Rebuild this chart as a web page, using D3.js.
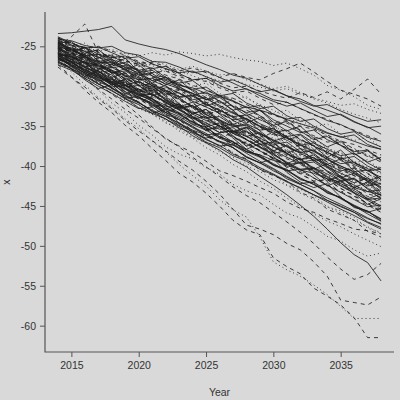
<!DOCTYPE html>
<html lang="en">
<head>
  <meta charset="UTF-8">
  <title>Simulated paths</title>
  <script type="text/javascript" src="https://cdn.jsdelivr.net/npm/d3@7/dist/d3.min.js"></script>
  <style type="text/css">
  body {
    margin: 0;
    padding: 0;
    background: #d9d9d9;
  }
  svg {
    display: block;
    background-color: #d9d9d9;
  }
  .path {
    fill: none;
    stroke: #1e1e1e;
    stroke-width: 0.85px;
  }
  .frame {
    stroke: #555;
    stroke-width: 1.2px;
    fill: none;
  }
  .tick line {
    stroke: #555;
  }
  .tick text, .axisLabel {
    fill: #333;
    font-family: "Liberation Sans", Arial, sans-serif;
    font-size: 10.5px;
  }
  </style>
</head>
<body>
  <div id="chart"></div>
<script type="text/javascript">
  var width = 400, height = 400;
  var plotLeft = 45, plotRight = 394, plotTop = 12, plotBottom = 352;

  var years = d3.range(2014, 2039);
  var xTicks = [2015, 2020, 2025, 2030, 2035];
  var yTicks = [-25, -30, -35, -40, -45, -50, -55, -60];

  // paths that stay high
  var s01 = [-23.4,-23.3,-23.1,-22.9,-22.5,-24.2,-24.7,-25.1,-25.4,-25.9,-26.6,-27.3,-27.9,-28.6,-29.0,-29.8,-30.5,-31.2,-31.6,-32.4,-33.0,-33.6,-34.5,-35.1,-36.0];
  var s02 = [-25.0,-23.8,-22.2,-25.8,-26.3,-26.9,-27.2,-28.0,-28.6,-29.1,-29.9,-30.4,-31.2,-31.5,-32.3,-33.1,-33.6,-34.2,-35.0,-35.4,-36.1,-36.9,-37.3,-38.0,-38.6];
  var s03 = [-24.5,-24.9,-25.1,-25.6,-25.4,-25.9,-26.2,-25.8,-26.1,-25.7,-25.9,-26.2,-26.0,-26.4,-26.7,-26.9,-27.4,-27.1,-27.8,-28.6,-29.9,-30.5,-31.3,-32.4,-32.9];
  var s04 = [-24.0,-24.6,-25.3,-25.7,-26.4,-26.8,-27.3,-27.0,-27.5,-28.1,-27.7,-28.3,-28.9,-28.4,-28.9,-29.2,-28.4,-27.8,-27.1,-28.2,-29.4,-30.5,-31.0,-31.6,-32.5];
  var s05 = [-25.2,-25.6,-26.1,-26.0,-26.7,-27.2,-27.9,-28.3,-28.1,-28.8,-29.3,-29.0,-29.6,-30.2,-30.0,-30.6,-31.1,-31.5,-30.8,-31.4,-30.7,-31.6,-30.4,-29.1,-31.0];
  var s06 = [-24.8,-25.3,-25.9,-26.4,-26.2,-26.9,-27.5,-27.2,-27.9,-28.4,-28.2,-28.8,-29.3,-29.1,-29.8,-30.1,-30.6,-30.3,-31.0,-31.5,-31.9,-32.4,-32.2,-32.9,-33.4];
  var s07 = [-25.0,-25.3,-25.5,-26.2,-26.0,-26.6,-27.1,-26.8,-27.3,-27.9,-27.5,-28.1,-28.6,-28.4,-29.2,-29.7,-30.3,-30.0,-30.8,-31.6,-32.1,-32.9,-33.5,-34.0,-34.6];
  var s08 = [-24.3,-24.6,-25.2,-25.0,-25.6,-26.1,-26.9,-27.2,-27.8,-28.6,-29.1,-29.4,-30.2,-30.8,-30.6,-31.5,-32.3,-32.0,-32.8,-33.6,-34.1,-34.9,-35.5,-36.2,-36.8];

  // central band
  var c01 = [-24.2,-24.9,-25.1,-26.0,-26.4,-26.2,-27.1,-27.8,-27.5,-28.4,-29.2,-29.0,-29.9,-30.6,-30.3,-31.2,-31.9,-32.5,-32.1,-33.0,-33.8,-33.5,-34.4,-35.2,-35.0];
  var c02 = [-25.1,-25.4,-26.3,-26.9,-26.6,-27.7,-28.3,-28.0,-29.1,-29.8,-30.4,-30.1,-31.2,-31.8,-32.7,-32.4,-33.5,-34.1,-33.9,-35.0,-35.8,-36.4,-36.1,-37.3,-37.9];
  var c03 = [-25.8,-26.5,-26.4,-27.4,-28.1,-28.8,-28.5,-29.6,-30.4,-30.2,-31.3,-32.0,-32.6,-32.3,-33.4,-34.2,-34.9,-34.6,-35.7,-36.5,-36.2,-37.4,-38.1,-38.8,-38.6];
  var c04 = [-24.6,-25.5,-26.2,-26.0,-27.1,-27.9,-28.6,-28.4,-29.5,-30.1,-30.9,-31.7,-31.4,-32.5,-33.3,-33.0,-34.2,-35.0,-35.8,-35.5,-36.7,-37.4,-38.2,-38.0,-39.2];
  var c05 = [-26.3,-26.8,-27.6,-28.5,-28.2,-29.3,-30.0,-30.8,-30.5,-31.6,-32.4,-33.1,-32.9,-34.0,-34.8,-35.5,-35.2,-36.4,-37.1,-37.9,-37.6,-38.8,-39.5,-40.3,-40.1];
  var c06 = [-25.3,-25.9,-26.8,-27.5,-28.3,-28.1,-29.0,-29.9,-30.6,-31.4,-31.2,-32.3,-33.0,-33.8,-33.6,-34.7,-35.4,-36.3,-36.0,-37.1,-37.9,-38.7,-38.4,-39.6,-40.5];
  var c07 = [-24.0,-24.8,-25.7,-25.5,-26.6,-27.2,-28.1,-28.9,-28.7,-29.8,-30.5,-31.4,-32.1,-31.9,-33.0,-33.7,-34.6,-34.3,-35.5,-36.2,-37.0,-36.8,-37.9,-38.7,-39.5];
  var c08 = [-26.7,-27.1,-27.9,-28.8,-29.5,-29.2,-30.4,-31.1,-31.9,-32.7,-32.4,-33.6,-34.3,-35.1,-34.9,-36.0,-36.8,-37.5,-38.3,-38.0,-39.2,-40.0,-40.7,-40.5,-41.7];
  var c09 = [-25.6,-26.4,-27.0,-27.8,-27.6,-28.7,-29.5,-30.1,-31.0,-30.8,-31.9,-32.6,-33.4,-34.2,-34.0,-35.1,-35.9,-36.5,-37.4,-37.1,-38.3,-39.0,-39.8,-40.6,-40.4];
  var c10 = [-24.9,-25.6,-26.5,-27.2,-28.0,-28.8,-28.6,-29.7,-30.4,-31.2,-32.0,-31.8,-32.9,-33.7,-34.4,-35.3,-35.0,-36.2,-36.9,-37.8,-38.5,-38.3,-39.4,-40.2,-41.0];
  var c11 = [-26.0,-26.9,-27.5,-28.4,-29.2,-29.9,-30.7,-30.5,-31.7,-32.4,-33.3,-34.0,-33.8,-34.9,-35.7,-36.5,-37.3,-37.0,-38.2,-39.0,-39.8,-40.6,-40.3,-41.5,-42.3];
  var c12 = [-25.2,-26.0,-26.7,-26.5,-27.6,-28.4,-29.1,-29.9,-30.7,-30.4,-31.6,-32.3,-33.1,-33.9,-33.7,-34.8,-35.6,-36.3,-37.2,-36.9,-38.1,-38.9,-39.6,-40.5,-40.2];
  var c13 = [-27.0,-27.6,-28.5,-29.3,-29.1,-30.2,-31.0,-31.8,-32.6,-32.3,-33.5,-34.3,-35.0,-35.9,-35.6,-36.8,-37.6,-38.4,-39.2,-38.9,-40.1,-40.9,-41.7,-42.5,-42.2];
  var c14 = [-24.5,-25.3,-26.1,-26.9,-27.7,-27.4,-28.5,-29.3,-30.0,-30.9,-31.7,-31.4,-32.6,-33.4,-34.1,-35.0,-35.8,-35.5,-36.7,-37.5,-38.3,-39.1,-38.8,-40.0,-40.8];
  var c15 = [-25.9,-26.6,-27.4,-28.2,-29.1,-29.8,-29.6,-30.7,-31.6,-32.4,-33.2,-34.0,-33.7,-34.9,-35.8,-36.6,-37.4,-38.2,-37.9,-39.1,-40.0,-40.8,-41.6,-42.4,-42.1];
  var c16 = [-26.4,-27.3,-28.1,-28.9,-29.8,-29.5,-30.7,-31.6,-32.4,-33.3,-34.1,-33.8,-35.0,-35.9,-36.7,-37.6,-38.4,-38.1,-39.3,-40.2,-41.0,-41.9,-41.6,-42.8,-43.7];
  var c17 = [-25.0,-25.8,-26.6,-27.5,-28.3,-29.1,-28.9,-30.0,-30.9,-31.7,-32.6,-33.4,-33.2,-34.3,-35.2,-36.0,-36.9,-37.7,-37.4,-38.6,-39.5,-40.3,-41.2,-42.0,-41.8];
  var c18 = [-24.7,-25.4,-26.3,-27.1,-27.0,-28.0,-28.8,-29.7,-30.5,-31.3,-31.1,-32.2,-33.0,-33.9,-34.7,-35.5,-35.3,-36.4,-37.3,-38.1,-38.9,-39.7,-39.5,-40.6,-41.4];
  var c19 = [-26.1,-27.0,-27.9,-28.6,-29.5,-30.3,-31.1,-30.9,-32.0,-32.9,-33.8,-34.6,-35.4,-35.2,-36.3,-37.2,-38.1,-38.9,-39.7,-39.5,-40.6,-41.5,-42.4,-43.2,-43.0];
  var c20 = [-25.5,-26.2,-27.2,-28.0,-28.9,-29.7,-29.5,-30.6,-31.5,-32.3,-33.2,-34.1,-34.9,-34.7,-35.8,-36.7,-37.5,-38.4,-39.2,-39.0,-40.1,-41.0,-41.9,-42.7,-43.6];
  var c21 = [-26.6,-27.4,-28.3,-29.2,-30.1,-29.9,-31.0,-31.9,-32.8,-33.6,-34.5,-35.4,-35.2,-36.3,-37.2,-38.1,-39.0,-39.8,-39.6,-40.7,-41.6,-42.5,-43.4,-44.2,-44.0];
  var c22 = [-24.3,-25.1,-25.9,-26.7,-27.6,-28.4,-29.2,-29.0,-30.1,-30.9,-31.8,-32.6,-33.4,-33.2,-34.3,-35.1,-36.0,-36.8,-37.6,-37.4,-38.5,-39.3,-40.2,-41.0,-41.8];
  var c23 = [-25.7,-26.7,-27.6,-28.5,-29.4,-30.3,-31.2,-31.0,-32.1,-33.0,-34.0,-34.9,-35.8,-35.6,-36.7,-37.6,-38.5,-39.5,-40.4,-40.2,-41.3,-42.2,-43.1,-44.1,-45.0];
  var c24 = [-26.9,-27.8,-28.8,-29.7,-30.6,-31.5,-31.3,-32.4,-33.3,-34.2,-35.2,-36.1,-35.9,-37.0,-37.9,-38.8,-39.7,-40.6,-40.4,-41.5,-42.4,-43.3,-44.2,-45.1,-44.9];
  var c25 = [-25.4,-26.1,-27.0,-27.9,-28.8,-29.6,-30.5,-31.4,-31.2,-32.3,-33.2,-34.1,-35.0,-35.9,-35.7,-36.8,-37.7,-38.6,-39.5,-40.4,-40.2,-41.3,-42.2,-43.1,-44.0];
  var c26 = [-24.8,-25.7,-26.5,-27.4,-28.2,-29.0,-29.9,-29.7,-30.8,-31.6,-32.5,-33.3,-34.2,-35.0,-34.8,-35.9,-36.7,-37.6,-38.4,-39.3,-39.1,-40.2,-41.0,-41.9,-42.7];
  var c27 = [-26.2,-26.9,-27.9,-28.8,-29.8,-30.7,-31.6,-32.6,-32.4,-33.5,-34.4,-35.4,-36.3,-37.2,-37.0,-38.1,-39.1,-40.0,-40.9,-41.9,-41.7,-42.8,-43.7,-44.7,-45.6];
  var c28 = [-25.3,-26.3,-27.2,-28.2,-29.1,-30.1,-29.9,-31.0,-32.0,-32.9,-33.9,-34.8,-35.8,-35.6,-36.7,-37.7,-38.6,-39.6,-40.5,-40.3,-41.4,-42.4,-43.3,-44.3,-45.2];
  var c29 = [-27.3,-28.0,-29.0,-30.0,-30.9,-31.9,-32.8,-32.6,-33.7,-34.7,-35.6,-36.6,-37.5,-37.3,-38.4,-39.4,-40.3,-41.3,-42.2,-42.0,-43.1,-44.1,-45.0,-46.0,-46.9];
  var c30 = [-25.9,-26.8,-27.8,-28.7,-29.7,-30.6,-31.6,-32.5,-32.3,-33.4,-34.4,-35.3,-36.3,-37.2,-37.0,-38.1,-39.1,-40.0,-41.0,-41.9,-41.7,-42.8,-43.8,-44.7,-45.7];

  // band with changing slope
  var d01 = [-24.1,-24.3,-24.9,-25.2,-25.0,-25.8,-26.1,-26.9,-27.0,-27.6,-28.3,-28.1,-28.9,-29.6,-30.4,-30.9,-31.7,-32.0,-32.8,-33.5,-34.3,-34.8,-35.6,-36.4,-36.9];
  var d02 = [-24.7,-24.5,-25.4,-25.9,-26.5,-26.3,-27.0,-27.4,-28.2,-28.0,-28.7,-29.3,-30.0,-30.6,-31.5,-32.3,-33.0,-33.9,-34.7,-35.3,-36.2,-37.1,-37.8,-38.6,-39.4];
  var d03 = [-23.8,-24.6,-25.2,-25.1,-25.8,-26.5,-26.3,-27.2,-27.8,-28.3,-28.1,-28.8,-29.5,-29.2,-29.9,-30.7,-30.4,-31.2,-31.9,-32.5,-32.3,-33.1,-33.8,-34.4,-34.2];
  var d04 = [-25.3,-25.5,-26.0,-26.8,-27.0,-27.9,-28.5,-28.3,-29.2,-29.7,-30.5,-31.0,-31.9,-32.5,-33.4,-34.2,-34.9,-35.8,-36.6,-37.5,-38.3,-39.2,-40.0,-40.9,-41.8];
  var d05 = [-26.0,-26.3,-27.1,-27.3,-28.0,-28.6,-29.2,-29.0,-29.7,-30.3,-30.9,-31.6,-32.4,-33.3,-34.1,-35.0,-35.6,-36.5,-37.4,-38.2,-39.1,-40.0,-40.8,-41.7,-42.6];
  var d06 = [-24.4,-25.3,-25.6,-26.4,-26.9,-27.6,-28.0,-28.7,-29.3,-29.9,-30.2,-30.9,-31.3,-31.9,-32.6,-33.0,-33.5,-34.2,-34.7,-35.2,-35.9,-36.3,-36.9,-37.5,-37.9];
  var d07 = [-25.6,-26.5,-27.4,-28.0,-28.9,-29.6,-30.4,-31.3,-32.0,-32.8,-33.7,-34.5,-35.0,-35.8,-36.3,-36.9,-37.6,-38.0,-38.7,-39.1,-39.8,-40.2,-40.9,-41.3,-41.9];
  var d08 = [-26.4,-27.5,-28.3,-29.4,-30.2,-31.3,-32.1,-33.0,-33.8,-34.6,-35.5,-36.1,-36.9,-37.4,-38.2,-38.6,-39.3,-39.8,-40.5,-40.9,-41.6,-42.0,-42.7,-43.2,-43.6];
  var d09 = [-24.9,-25.8,-26.9,-27.6,-28.7,-29.5,-30.5,-31.1,-32.2,-32.9,-33.9,-34.6,-35.6,-36.4,-37.3,-38.0,-39.0,-39.7,-40.7,-41.5,-42.4,-43.2,-44.1,-44.9,-45.8];
  var d10 = [-26.5,-27.2,-28.4,-29.1,-30.3,-31.2,-32.0,-33.1,-33.8,-34.9,-35.7,-36.7,-37.4,-38.5,-39.2,-40.2,-41.0,-41.9,-42.8,-43.6,-44.5,-45.4,-46.2,-47.1,-47.9];
  var d11 = [-25.1,-26.2,-27.0,-28.1,-29.0,-29.8,-30.9,-31.6,-32.7,-33.4,-34.5,-35.2,-36.3,-37.0,-38.0,-38.8,-39.8,-40.5,-41.5,-42.3,-43.2,-44.0,-44.9,-45.7,-46.6];
  var d12 = [-27.0,-27.9,-29.0,-29.8,-30.9,-31.7,-32.8,-33.5,-34.6,-35.3,-36.4,-37.1,-38.2,-38.9,-40.0,-40.7,-41.7,-42.4,-43.4,-44.2,-45.1,-45.9,-46.8,-47.6,-48.5];
  var d13 = [-25.8,-26.6,-27.7,-28.4,-29.6,-30.3,-31.4,-32.2,-33.3,-34.0,-35.1,-35.9,-37.0,-37.7,-38.8,-39.6,-40.6,-41.4,-42.3,-43.1,-44.0,-44.8,-45.6,-46.5,-47.3];
  var d14 = [-24.6,-25.4,-26.2,-27.3,-28.0,-29.1,-29.8,-30.8,-31.5,-32.5,-33.2,-34.2,-34.9,-35.9,-36.6,-37.5,-38.2,-39.1,-39.8,-40.7,-41.4,-42.2,-42.9,-43.8,-44.5];
  var d15 = [-26.8,-27.8,-28.6,-29.7,-30.5,-31.6,-32.3,-33.4,-34.1,-35.2,-35.9,-37.0,-37.7,-38.7,-39.4,-40.4,-41.1,-42.0,-42.7,-43.6,-44.3,-45.1,-45.8,-46.6,-47.2];

  // jagged paths
  var f01 = [-24.5,-25.8,-25.1,-26.9,-27.3,-26.5,-28.2,-29.6,-28.8,-30.4,-30.9,-32.5,-31.8,-33.0,-34.6,-33.9,-35.2,-36.8,-36.1,-37.5,-38.9,-38.0,-39.6,-40.3,-41.7];
  var f02 = [-25.7,-25.0,-26.6,-27.9,-27.2,-28.8,-28.3,-30.0,-31.2,-30.5,-32.1,-33.4,-32.7,-34.3,-35.0,-36.4,-35.8,-37.3,-38.6,-37.9,-39.5,-40.7,-40.1,-41.8,-43.2];
  var f03 = [-26.3,-27.5,-26.9,-28.6,-29.9,-29.1,-30.8,-31.5,-32.9,-32.2,-33.8,-35.1,-34.6,-36.2,-37.5,-36.8,-38.4,-39.7,-39.0,-40.6,-41.9,-41.2,-42.8,-44.1,-43.5];
  var f04 = [-24.9,-26.2,-27.4,-26.7,-28.3,-29.5,-28.9,-30.6,-31.9,-31.3,-32.8,-33.5,-34.9,-34.2,-35.7,-37.0,-36.4,-37.9,-39.2,-38.5,-40.1,-41.4,-40.8,-42.3,-43.6];
  var f05 = [-25.5,-25.1,-26.4,-27.0,-28.4,-27.8,-29.3,-30.5,-29.9,-31.4,-32.7,-32.0,-33.5,-34.8,-34.1,-35.6,-36.9,-36.3,-37.8,-38.4,-39.8,-39.1,-40.6,-41.9,-41.3];
  var f06 = [-23.9,-24.8,-25.9,-25.4,-26.8,-27.9,-27.3,-28.7,-29.8,-29.2,-30.6,-31.7,-31.1,-32.6,-33.7,-33.0,-34.5,-35.6,-35.0,-36.5,-37.6,-36.9,-38.4,-39.5,-38.9];
  var f07 = [-26.6,-27.2,-28.5,-29.8,-29.0,-30.7,-32.0,-31.3,-33.0,-34.3,-33.5,-35.2,-36.5,-35.8,-37.5,-38.8,-38.0,-39.7,-41.0,-40.3,-42.0,-43.3,-42.5,-44.2,-45.5];
  var f08 = [-25.2,-26.5,-26.0,-27.6,-28.9,-28.3,-29.9,-31.2,-30.6,-32.2,-33.5,-32.9,-34.5,-35.8,-35.2,-36.8,-38.1,-37.4,-39.1,-40.4,-39.7,-41.4,-42.7,-42.0,-43.7];
  var f09 = [-24.2,-25.0,-24.6,-25.9,-26.7,-26.2,-27.5,-28.3,-27.9,-29.2,-30.0,-29.6,-30.9,-31.7,-31.3,-32.6,-33.4,-33.0,-34.3,-35.1,-34.7,-36.0,-36.8,-36.4,-37.7];
  var f10 = [-26.1,-27.4,-28.8,-28.0,-29.6,-31.0,-30.3,-31.9,-33.3,-32.6,-34.2,-35.6,-34.9,-36.5,-37.9,-37.2,-38.8,-40.2,-39.5,-41.1,-42.5,-41.8,-43.4,-44.8,-44.1];
  var f11 = [-25.9,-26.3,-27.7,-28.1,-29.4,-29.9,-31.2,-31.6,-32.9,-33.4,-34.7,-35.1,-36.4,-36.9,-38.2,-38.6,-39.9,-40.4,-41.7,-42.1,-43.4,-43.9,-45.2,-45.6,-46.9];
  var f12 = [-24.7,-25.9,-26.3,-27.5,-27.9,-29.1,-29.5,-30.7,-31.1,-32.3,-32.7,-33.9,-34.3,-35.5,-35.9,-37.1,-37.5,-38.7,-39.1,-40.3,-40.7,-41.9,-42.3,-43.5,-43.9];
  var f13 = [-25.3,-26.1,-27.6,-27.1,-28.4,-29.8,-30.5,-29.9,-31.3,-32.6,-33.4,-32.9,-34.2,-35.6,-36.3,-35.8,-37.1,-38.5,-39.2,-38.6,-40.0,-41.3,-42.1,-41.5,-42.9];
  var f14 = [-26.8,-27.3,-28.9,-29.4,-30.1,-31.6,-32.1,-32.9,-34.3,-34.8,-35.6,-37.0,-37.5,-38.3,-39.7,-40.2,-41.0,-42.4,-42.9,-43.7,-45.1,-45.6,-46.4,-47.8,-48.3];
  var f15 = [-24.4,-25.6,-25.2,-26.3,-27.5,-27.0,-28.2,-29.3,-28.9,-30.0,-31.2,-30.7,-31.9,-33.0,-32.6,-33.7,-34.9,-34.4,-35.6,-36.7,-36.3,-37.4,-38.6,-38.1,-39.3];
  var f16 = [-25.8,-26.7,-26.2,-27.8,-28.6,-29.9,-29.4,-30.3,-31.8,-32.6,-32.0,-33.5,-34.4,-35.7,-35.1,-36.1,-37.6,-38.4,-37.8,-39.3,-40.2,-41.5,-40.9,-41.9,-43.4];
  var f17 = [-25.0,-25.7,-27.0,-27.6,-27.2,-28.9,-29.6,-30.7,-30.2,-31.8,-32.5,-33.6,-33.1,-34.7,-35.4,-36.5,-36.0,-37.6,-38.3,-39.4,-38.9,-40.5,-41.2,-42.3,-41.8];
  var f18 = [-26.2,-26.0,-27.1,-28.3,-28.0,-29.4,-30.6,-30.2,-31.7,-32.8,-32.5,-33.9,-35.1,-34.7,-36.2,-37.3,-37.0,-38.4,-39.6,-39.2,-40.7,-41.8,-41.5,-42.9,-44.1];
  var f19 = [-24.0,-24.9,-26.1,-25.8,-27.0,-27.6,-28.8,-28.4,-29.7,-30.3,-31.5,-31.1,-32.4,-33.0,-34.2,-33.8,-35.1,-35.7,-36.9,-36.5,-37.8,-38.4,-39.6,-39.2,-40.5];
  var f20 = [-27.1,-27.8,-29.2,-30.3,-29.8,-31.5,-32.7,-33.4,-32.9,-34.6,-35.8,-36.5,-36.0,-37.7,-38.9,-39.6,-39.1,-40.8,-42.0,-42.7,-42.2,-43.9,-45.1,-45.8,-45.3];
  var f21 = [-25.4,-26.6,-27.3,-28.7,-29.3,-30.7,-31.4,-32.1,-33.6,-34.2,-35.6,-36.3,-37.0,-38.4,-39.1,-40.5,-41.2,-41.9,-43.3,-44.0,-45.4,-46.1,-46.8,-48.2,-48.9];
  var f22 = [-24.6,-24.4,-25.7,-26.4,-26.1,-27.3,-28.0,-27.7,-28.9,-29.6,-29.3,-30.5,-31.2,-30.9,-32.1,-32.8,-32.5,-33.7,-34.4,-34.1,-35.3,-36.0,-35.7,-36.9,-37.6];
  var f23 = [-26.0,-26.9,-28.2,-28.9,-29.6,-30.9,-31.5,-32.3,-33.5,-34.2,-35.0,-36.2,-36.9,-37.7,-38.9,-39.6,-40.4,-41.6,-42.3,-43.1,-44.3,-45.0,-45.8,-47.0,-47.7];
  var f24 = [-25.1,-25.4,-26.8,-27.0,-28.3,-28.7,-29.9,-30.4,-31.5,-32.1,-33.1,-33.8,-34.7,-35.5,-36.3,-37.2,-37.9,-38.9,-39.5,-40.6,-41.1,-42.3,-42.7,-44.0,-44.3];
  var f25 = [-26.4,-27.0,-28.0,-28.7,-29.7,-30.4,-31.4,-32.1,-33.1,-33.8,-34.8,-35.5,-36.5,-37.2,-38.2,-38.9,-39.9,-40.6,-41.6,-42.3,-43.3,-44.0,-45.0,-45.7,-46.7];

  // paths that fall fastest
  var e01 = [-27.3,-28.8,-30.5,-32.0,-33.3,-34.9,-36.2,-37.8,-39.3,-40.9,-42.0,-43.4,-45.0,-46.8,-48.0,-48.6,-51.5,-52.6,-53.5,-55.3,-56.3,-57.4,-59.0,-61.5,-61.5];
  var e02 = [-26.9,-28.2,-29.8,-31.4,-32.6,-34.1,-35.3,-36.9,-38.2,-39.8,-41.2,-42.5,-44.2,-45.5,-46.4,-48.9,-52.0,-53.0,-53.8,-54.9,-56.1,-57.6,-59.1,-59.1,-59.1];
  var e03 = [-27.6,-28.9,-30.1,-31.6,-32.8,-34.3,-35.6,-36.8,-38.1,-39.4,-40.5,-41.9,-43.5,-45.4,-47.4,-47.9,-48.6,-49.7,-50.5,-52.0,-53.8,-56.8,-57.1,-57.4,-56.4];
  var e04 = [-26.5,-27.9,-29.0,-30.4,-31.6,-32.9,-34.0,-35.3,-36.5,-37.6,-38.9,-40.1,-41.3,-42.6,-43.7,-44.6,-45.8,-47.0,-48.3,-49.7,-51.4,-52.9,-54.2,-53.6,-52.2];
  var e05 = [-26.2,-27.0,-28.1,-29.0,-30.2,-31.1,-32.0,-33.2,-34.1,-35.0,-36.2,-37.1,-38.0,-39.2,-40.1,-41.3,-42.4,-43.6,-44.9,-46.3,-47.9,-49.6,-51.1,-52.1,-54.4];
  var e06 = [-25.9,-27.0,-28.2,-29.1,-30.3,-31.4,-32.3,-33.5,-34.4,-35.6,-36.5,-37.7,-38.6,-39.8,-40.7,-41.9,-42.8,-44.0,-45.1,-46.0,-46.9,-47.6,-48.5,-49.3,-50.1];
  var e07 = [-25.4,-26.9,-28.4,-29.6,-31.0,-32.2,-33.6,-35.1,-36.6,-37.5,-38.3,-39.4,-40.6,-41.2,-41.9,-42.7,-43.4,-44.5,-45.3,-45.8,-46.6,-47.2,-47.9,-48.1,-48.5];
  var e08 = [-26.0,-27.6,-29.1,-30.5,-32.1,-33.3,-34.9,-36.1,-37.6,-38.5,-39.1,-40.2,-41.0,-42.3,-43.1,-43.6,-44.8,-45.9,-46.5,-47.6,-48.8,-49.4,-50.5,-51.3,-50.9];

  var series = [s01, s02, s03, s04, s05, s06, s07, s08,
    c01, c02, c03, c04, c05, c06, c07, c08, c09, c10, c11, c12, c13, c14, c15,
    c16, c17, c18, c19, c20, c21, c22, c23, c24, c25, c26, c27, c28, c29, c30,
    d01, d02, d03, d04, d05, d06, d07, d08, d09, d10, d11, d12, d13, d14, d15,
    f01, f02, f03, f04, f05, f06, f07, f08, f09, f10, f11, f12, f13,
    f14, f15, f16, f17, f18, f19, f20, f21, f22, f23, f24, f25,
    e01, e02, e03, e04, e05, e06, e07, e08];

  // 1 solid, 2 dashed, 3 dotted
  var lineTypes = [1, 2, 3, 2, 2, 3, 3, 2,
    1, 1, 2, 1, 3, 1, 2, 1, 1, 3, 1, 2, 1, 1, 3,
    1, 2, 1, 1, 3, 1, 2, 1, 1, 3, 1, 2, 1, 1, 2,
    1, 3, 1, 2, 1, 1, 3, 1, 2, 1, 1, 3, 1, 2, 1,
    1, 2, 1, 3, 1, 1, 2, 1, 3, 1, 1, 2, 1,
    3, 1, 1, 2, 1, 3, 1, 2, 1, 1, 3, 1,
    2, 3, 2, 2, 1, 3, 2, 3];

  var dashes = {1: null, 2: '4,4', 3: '1,3'};

  var svg = d3.select('#chart')
    .append('svg')
    .attr('width', width)
    .attr('height', height);

  var xScale = d3.scaleLinear()
    .domain([2013.04, 2038.96])
    .range([plotLeft, plotRight]);

  var yScale = d3.scaleLinear()
    .domain([-63.3, -20.7])
    .range([plotBottom, plotTop]);

  var line = d3.line()
    .x(function(d, i){ return xScale(years[i]); })
    .y(function(d){ return yScale(d); });

  svg.append('g')
    .selectAll('path')
    .data(series)
    .enter()
    .append('path')
    .attr('class', 'path')
    .attr('d', line)
    .attr('stroke-dasharray', function(d, i){ return dashes[lineTypes[i]]; });

  // L shaped frame
  svg.append('path')
    .attr('class', 'frame')
    .attr('d', 'M' + plotLeft + ',' + plotTop + 'V' + plotBottom + 'H' + plotRight);

  // plain hyphen minus like the original
  var plain = function(d){ return String(d); };

  var xAxis = d3.axisBottom(xScale).tickValues(xTicks).tickSize(5).tickPadding(5).tickFormat(plain);
  var yAxis = d3.axisLeft(yScale).tickValues(yTicks).tickSize(5).tickPadding(4).tickFormat(plain);

  svg.append('g')
    .attr('transform', 'translate(0,' + plotBottom + ')')
    .call(xAxis)
    .call(function(g){ g.select('.domain').remove(); });

  svg.append('g')
    .attr('transform', 'translate(' + plotLeft + ',0)')
    .call(yAxis)
    .call(function(g){ g.select('.domain').remove(); });

  svg.append('text')
    .attr('class', 'axisLabel')
    .attr('x', (plotLeft + plotRight) / 2)
    .attr('y', 396)
    .attr('text-anchor', 'middle')
    .text('Year');

  svg.append('text')
    .attr('class', 'axisLabel')
    .attr('transform', 'translate(10,' + ((plotTop + plotBottom) / 2) + ') rotate(-90)')
    .attr('text-anchor', 'middle')
    .text('x');
</script>
</body>
</html>
